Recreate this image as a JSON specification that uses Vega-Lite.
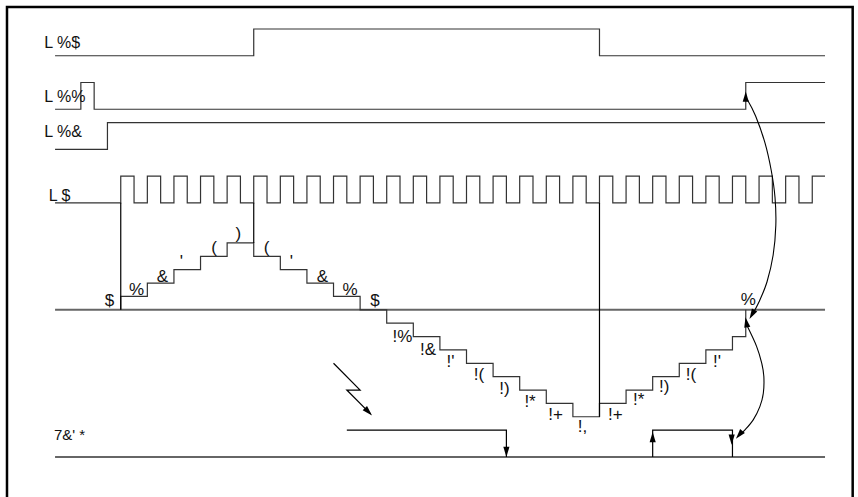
{
  "$schema": "https://vega.github.io/schema/vega-lite/v6.json",
  "width": 858,
  "height": 497,
  "autosize": {"type": "fit", "contains": "padding"},
  "padding": 0,
  "background": "white",
  "config": {"view": {"stroke": null}},
  "datasets": {
    "signals": [
      {"s":"a","t":-2.47,"v":19},{"s":"a","t":5,"v":19},{"s":"a","t":5,"v":21},{"s":"a","t":18,"v":21},{"s":"a","t":18,"v":19},{"s":"a","t":26.48,"v":19},
      {"s":"b","t":-2.47,"v":15},{"s":"b","t":-1.5,"v":15},{"s":"b","t":-1.5,"v":17},{"s":"b","t":-1,"v":17},{"s":"b","t":-1,"v":15},{"s":"b","t":23.5,"v":15},{"s":"b","t":23.5,"v":17},{"s":"b","t":26.48,"v":17},
      {"s":"c","t":-2.47,"v":12},{"s":"c","t":-0.5,"v":12},{"s":"c","t":-0.5,"v":14},{"s":"c","t":26.48,"v":14},
      {"s":"d","t":-2.47,"v":8},{"s":"d","t":0,"v":8},{"s":"d","t":0,"v":10},{"s":"d","t":0.5,"v":10},{"s":"d","t":0.5,"v":8},
      {"s":"d","t":1,"v":8},{"s":"d","t":1,"v":10},{"s":"d","t":1.5,"v":10},{"s":"d","t":1.5,"v":8},
      {"s":"d","t":2,"v":8},{"s":"d","t":2,"v":10},{"s":"d","t":2.5,"v":10},{"s":"d","t":2.5,"v":8},
      {"s":"d","t":3,"v":8},{"s":"d","t":3,"v":10},{"s":"d","t":3.5,"v":10},{"s":"d","t":3.5,"v":8},
      {"s":"d","t":4,"v":8},{"s":"d","t":4,"v":10},{"s":"d","t":4.5,"v":10},{"s":"d","t":4.5,"v":8},
      {"s":"d","t":5,"v":8},{"s":"d","t":5,"v":10},{"s":"d","t":5.5,"v":10},{"s":"d","t":5.5,"v":8},
      {"s":"d","t":6,"v":8},{"s":"d","t":6,"v":10},{"s":"d","t":6.5,"v":10},{"s":"d","t":6.5,"v":8},
      {"s":"d","t":7,"v":8},{"s":"d","t":7,"v":10},{"s":"d","t":7.5,"v":10},{"s":"d","t":7.5,"v":8},
      {"s":"d","t":8,"v":8},{"s":"d","t":8,"v":10},{"s":"d","t":8.5,"v":10},{"s":"d","t":8.5,"v":8},
      {"s":"d","t":9,"v":8},{"s":"d","t":9,"v":10},{"s":"d","t":9.5,"v":10},{"s":"d","t":9.5,"v":8},
      {"s":"d","t":10,"v":8},{"s":"d","t":10,"v":10},{"s":"d","t":10.5,"v":10},{"s":"d","t":10.5,"v":8},
      {"s":"d","t":11,"v":8},{"s":"d","t":11,"v":10},{"s":"d","t":11.5,"v":10},{"s":"d","t":11.5,"v":8},
      {"s":"d","t":12,"v":8},{"s":"d","t":12,"v":10},{"s":"d","t":12.5,"v":10},{"s":"d","t":12.5,"v":8},
      {"s":"d","t":13,"v":8},{"s":"d","t":13,"v":10},{"s":"d","t":13.5,"v":10},{"s":"d","t":13.5,"v":8},
      {"s":"d","t":14,"v":8},{"s":"d","t":14,"v":10},{"s":"d","t":14.5,"v":10},{"s":"d","t":14.5,"v":8},
      {"s":"d","t":15,"v":8},{"s":"d","t":15,"v":10},{"s":"d","t":15.5,"v":10},{"s":"d","t":15.5,"v":8},
      {"s":"d","t":16,"v":8},{"s":"d","t":16,"v":10},{"s":"d","t":16.5,"v":10},{"s":"d","t":16.5,"v":8},
      {"s":"d","t":17,"v":8},{"s":"d","t":17,"v":10},{"s":"d","t":17.5,"v":10},{"s":"d","t":17.5,"v":8},
      {"s":"d","t":18,"v":8},{"s":"d","t":18,"v":10},{"s":"d","t":18.5,"v":10},{"s":"d","t":18.5,"v":8},
      {"s":"d","t":19,"v":8},{"s":"d","t":19,"v":10},{"s":"d","t":19.5,"v":10},{"s":"d","t":19.5,"v":8},
      {"s":"d","t":20,"v":8},{"s":"d","t":20,"v":10},{"s":"d","t":20.5,"v":10},{"s":"d","t":20.5,"v":8},
      {"s":"d","t":21,"v":8},{"s":"d","t":21,"v":10},{"s":"d","t":21.5,"v":10},{"s":"d","t":21.5,"v":8},
      {"s":"d","t":22,"v":8},{"s":"d","t":22,"v":10},{"s":"d","t":22.5,"v":10},{"s":"d","t":22.5,"v":8},
      {"s":"d","t":23,"v":8},{"s":"d","t":23,"v":10},{"s":"d","t":23.5,"v":10},{"s":"d","t":23.5,"v":8},
      {"s":"d","t":24,"v":8},{"s":"d","t":24,"v":10},{"s":"d","t":24.5,"v":10},{"s":"d","t":24.5,"v":8},
      {"s":"d","t":25,"v":8},{"s":"d","t":25,"v":10},{"s":"d","t":25.5,"v":10},{"s":"d","t":25.5,"v":8},
      {"s":"d","t":26,"v":8},{"s":"d","t":26,"v":10},{"s":"d","t":26.48,"v":10},
      {"s":"e","t":0,"v":0},{"s":"e","t":0,"v":1},{"s":"e","t":1,"v":1},{"s":"e","t":1,"v":2},{"s":"e","t":2,"v":2},{"s":"e","t":2,"v":3},{"s":"e","t":3,"v":3},{"s":"e","t":3,"v":4},{"s":"e","t":4,"v":4},{"s":"e","t":4,"v":5},{"s":"e","t":5,"v":5},{"s":"e","t":5,"v":4},{"s":"e","t":6,"v":4},{"s":"e","t":6,"v":3},{"s":"e","t":7,"v":3},{"s":"e","t":7,"v":2},{"s":"e","t":8,"v":2},{"s":"e","t":8,"v":1},{"s":"e","t":9,"v":1},{"s":"e","t":9,"v":0},{"s":"e","t":10,"v":0},{"s":"e","t":10,"v":-1},{"s":"e","t":11,"v":-1},{"s":"e","t":11,"v":-2},{"s":"e","t":12,"v":-2},{"s":"e","t":12,"v":-3},{"s":"e","t":13,"v":-3},{"s":"e","t":13,"v":-4},{"s":"e","t":14,"v":-4},{"s":"e","t":14,"v":-5},{"s":"e","t":15,"v":-5},{"s":"e","t":15,"v":-6},{"s":"e","t":16,"v":-6},{"s":"e","t":16,"v":-7},{"s":"e","t":17,"v":-7},{"s":"e","t":17,"v":-8},{"s":"e","t":18,"v":-8},{"s":"e","t":18,"v":-7},{"s":"e","t":19,"v":-7},{"s":"e","t":19,"v":-6},{"s":"e","t":20,"v":-6},{"s":"e","t":20,"v":-5},{"s":"e","t":21,"v":-5},{"s":"e","t":21,"v":-4},{"s":"e","t":22,"v":-4},{"s":"e","t":22,"v":-3},{"s":"e","t":23,"v":-3},{"s":"e","t":23,"v":-2},{"s":"e","t":23.5,"v":-2},{"s":"e","t":23.5,"v":0}
    ],
    "marks": [
      {"s":"m1","t":0,"v":8},{"s":"m1","t":0,"v":0},
      {"s":"m2","t":5,"v":8},{"s":"m2","t":5,"v":5},
      {"s":"m3","t":18,"v":8},{"s":"m3","t":18,"v":-8},
      {"s":"f","t":20,"v":-11},{"s":"f","t":20,"v":-9},{"s":"f","t":23,"v":-9},{"s":"f","t":23,"v":-11},
      {"s":"g","t":8.5,"v":-9},{"s":"g","t":14.5,"v":-9},{"s":"g","t":14.5,"v":-11},
      {"s":"h","t":8,"v":-4},{"s":"h","t":9,"v":-6},{"s":"h","t":8.5,"v":-6},{"s":"h","t":9.4,"v":-7.8}
    ],
    "baselines": [
      {"s":"z0","t":-2.47,"v":0},{"s":"z0","t":26.48,"v":0},
      {"s":"z1","t":-2.47,"v":-11},{"s":"z1","t":26.48,"v":-11}
    ],
    "curves": [
      {"s":"c1","t":23.55,"v":15.75},{"s":"c1","t":23.87,"v":14.5},{"s":"c1","t":24.22,"v":12.5},{"s":"c1","t":24.46,"v":10.4},{"s":"c1","t":24.6,"v":8.4},{"s":"c1","t":24.63,"v":6.3},{"s":"c1","t":24.53,"v":4.1},{"s":"c1","t":24.3,"v":2.1},{"s":"c1","t":24.0,"v":0.6},{"s":"c1","t":23.72,"v":-0.45},
      {"s":"c2","t":23.55,"v":-1.2},{"s":"c2","t":23.91,"v":-2.75},{"s":"c2","t":24.1,"v":-3.99},{"s":"c2","t":24.18,"v":-4.99},{"s":"c2","t":24.16,"v":-6.24},{"s":"c2","t":24.03,"v":-7.24},{"s":"c2","t":23.78,"v":-8.23},{"s":"c2","t":23.47,"v":-8.98},{"s":"c2","t":23.25,"v":-9.4}
    ],
    "arrows": [
      {"t":23.5,"v":16.33,"a":0},
      {"t":23.64,"v":-0.68,"a":210},
      {"t":23.49,"v":-0.55,"a":-10},
      {"t":23.13,"v":-9.65,"a":220},
      {"t":14.5,"v":-11,"a":180},
      {"t":20,"v":-9.13,"a":0},
      {"t":22.97,"v":-10.1,"a":180},
      {"t":9.45,"v":-7.9,"a":135}
    ],
    "frame": [
      {"t":-4.277,"v":-14},{"t":-4.277,"v":22.65},{"t":27.52,"v":22.65},{"t":27.52,"v":-14}
    ],
    "signalLabels": [
      {"label":"L %$","t":-2.88,"v":19.58},
      {"label":"L %%","t":-2.88,"v":15.54},
      {"label":"L %&","t":-2.88,"v":12.93},
      {"label":"L $","t":-2.71,"v":8.14}
    ],
    "bottomLabel": [
      {"label":"7&' *","t":-2.51,"v":-9.73}
    ],
    "countLabels": [
      {"label":"$","t":-0.423,"v":0.29},
      {"label":"%","t":0.592,"v":1.11},
      {"label":"&","t":1.57,"v":2.09},
      {"label":"'","t":2.284,"v":3.21},
      {"label":"(","t":3.506,"v":4.25},
      {"label":")","t":4.42,"v":5.26},
      {"label":"(","t":5.48,"v":4.25},
      {"label":"'","t":6.42,"v":3.21},
      {"label":"&","t":7.585,"v":2.09},
      {"label":"%","t":8.62,"v":1.11},
      {"label":"$","t":9.56,"v":0.29},
      {"label":"!%","t":10.59,"v":-2.4},
      {"label":"!&","t":11.55,"v":-3.37},
      {"label":"!'","t":12.4,"v":-4.27},
      {"label":"!(","t":13.47,"v":-5.24},
      {"label":"!)","t":14.43,"v":-6.29},
      {"label":"!*","t":15.39,"v":-7.26},
      {"label":"!+","t":16.35,"v":-8.23},
      {"label":"!,","t":17.36,"v":-9.13},
      {"label":"!+","t":18.6,"v":-8.23},
      {"label":"!*","t":19.47,"v":-7.11},
      {"label":"!)","t":20.43,"v":-6.14},
      {"label":"!(","t":21.44,"v":-5.24},
      {"label":"!'","t":22.42,"v":-4.27},
      {"label":"%","t":23.6,"v":0.37}
    ]
  },
  "encoding": {
    "x": {"field": "t", "type": "quantitative", "scale": {"domain": [-4.54, 27.72], "nice": false, "zero": false}, "axis": null},
    "y": {"field": "v", "type": "quantitative", "scale": {"domain": [-14, 23.17], "nice": false, "zero": false}, "axis": null}
  },
  "layer": [
    {
      "data": {"name": "baselines"},
      "mark": {"type": "line", "color": "#666666", "strokeWidth": 2},
      "encoding": {"detail": {"field": "s"}, "order": {"value": null}}
    },
    {
      "data": {"name": "signals"},
      "mark": {"type": "line", "color": "#333333", "strokeWidth": 1.2},
      "encoding": {"detail": {"field": "s"}, "order": {"value": null}}
    },
    {
      "data": {"name": "marks"},
      "mark": {"type": "line", "color": "#000000", "strokeWidth": 1.2},
      "encoding": {"detail": {"field": "s"}, "order": {"value": null}}
    },
    {
      "data": {"name": "curves"},
      "mark": {"type": "line", "color": "#000000", "strokeWidth": 1.1, "interpolate": "cardinal"},
      "encoding": {"detail": {"field": "s"}, "order": {"value": null}}
    },
    {
      "data": {"name": "arrows"},
      "mark": {"type": "point", "shape": "M0,0L-0.3,1L0.3,1Z", "filled": true, "color": "#000000", "opacity": 1, "size": 420, "strokeWidth": 0},
      "encoding": {"angle": {"field": "a", "type": "quantitative", "scale": null}}
    },
    {
      "data": {"name": "frame"},
      "mark": {"type": "line", "color": "#000000", "strokeWidth": 2.5, "clip": true},
      "encoding": {"order": {"value": null}}
    },
    {
      "data": {"name": "signalLabels"},
      "mark": {"type": "text", "align": "left", "baseline": "alphabetic", "font": "Liberation Sans", "fontSize": 16, "color": "#111111"},
      "encoding": {"text": {"field": "label"}}
    },
    {
      "data": {"name": "bottomLabel"},
      "mark": {"type": "text", "align": "left", "baseline": "alphabetic", "font": "Liberation Sans", "fontSize": 15, "color": "#111111"},
      "encoding": {"text": {"field": "label"}}
    },
    {
      "data": {"name": "countLabels"},
      "mark": {"type": "text", "align": "center", "baseline": "alphabetic", "font": "Liberation Sans", "fontSize": 17, "color": "#111111"},
      "encoding": {"text": {"field": "label"}}
    }
  ]
}
